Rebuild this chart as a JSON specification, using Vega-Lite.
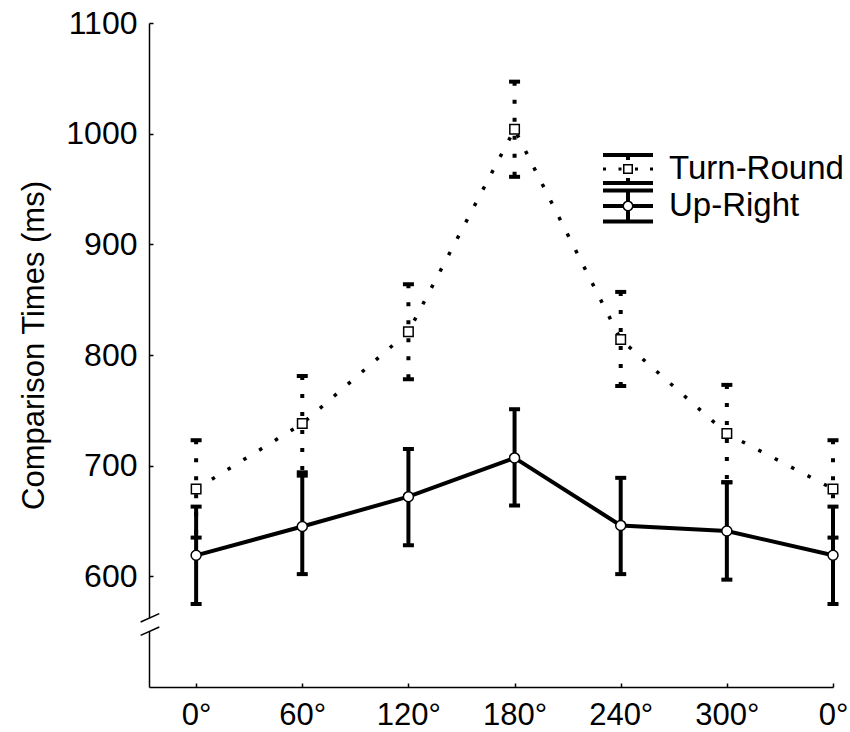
{
  "$schema": "https://vega.github.io/schema/vega-lite/v6.json",
  "width": 684,
  "height": 664,
  "autosize": {"type": "none"},
  "padding": {"left": 149, "top": 23, "right": 17, "bottom": 45},
  "background": "white",
  "config": {
    "view": {"stroke": null},
    "font": "Liberation Sans",
    "axis": {
      "grid": false,
      "domainColor": "black",
      "domainWidth": 1.5,
      "tickColor": "black",
      "tickWidth": 1.5,
      "tickSize": -4,
      "labelFont": "Liberation Sans",
      "labelFontSize": 32,
      "labelColor": "black",
      "titleFont": "Liberation Sans",
      "titleFontWeight": "normal",
      "titleColor": "black"
    }
  },
  "datasets": {
    "times": [
      {"pos": 0, "angle": "0°", "series": "Turn-Round", "mean": 679, "lower": 635, "upper": 723},
      {"pos": 1, "angle": "60°", "series": "Turn-Round", "mean": 738, "lower": 694, "upper": 781},
      {"pos": 2, "angle": "120°", "series": "Turn-Round", "mean": 821, "lower": 778, "upper": 864},
      {"pos": 3, "angle": "180°", "series": "Turn-Round", "mean": 1004, "lower": 961, "upper": 1047},
      {"pos": 4, "angle": "240°", "series": "Turn-Round", "mean": 814, "lower": 772, "upper": 857},
      {"pos": 5, "angle": "300°", "series": "Turn-Round", "mean": 729, "lower": 685, "upper": 773},
      {"pos": 6, "angle": "0°", "series": "Turn-Round", "mean": 679, "lower": 635, "upper": 723},
      {"pos": 0, "angle": "0°", "series": "Up-Right", "mean": 619, "lower": 575, "upper": 663},
      {"pos": 1, "angle": "60°", "series": "Up-Right", "mean": 645, "lower": 602, "upper": 691},
      {"pos": 2, "angle": "120°", "series": "Up-Right", "mean": 672, "lower": 628, "upper": 715},
      {"pos": 3, "angle": "180°", "series": "Up-Right", "mean": 707, "lower": 664, "upper": 751},
      {"pos": 4, "angle": "240°", "series": "Up-Right", "mean": 646, "lower": 602, "upper": 689},
      {"pos": 5, "angle": "300°", "series": "Up-Right", "mean": 641, "lower": 597, "upper": 685},
      {"pos": 6, "angle": "0°", "series": "Up-Right", "mean": 619, "lower": 575, "upper": 663}
    ],
    "axisBreak": [
      {"x": -0.523, "y": 558.7, "x2": -0.347, "y2": 566.3},
      {"x": -0.523, "y": 546.7, "x2": -0.347, "y2": 554.2}
    ],
    "breakGap": [
      {"x": -0.444, "y": 550.6, "y2": 562.2}
    ]
  },
  "encoding": {
    "x": {
      "field": "pos",
      "type": "quantitative",
      "scale": {"domain": [-0.444, 6], "nice": false, "zero": false},
      "axis": {
        "title": null,
        "values": [0, 1, 2, 3, 4, 5, 6],
        "labelExpr": "['0°','60°','120°','180°','240°','300°','0°'][datum.value]",
        "labelFontSize": 31,
        "labelPadding": 17,
        "labelFlush": false
      }
    },
    "y": {
      "type": "quantitative",
      "scale": {"domain": [500, 1100], "nice": false, "zero": false},
      "axis": {
        "title": "Comparison Times (ms)",
        "titleFontSize": 31,
        "titleX": -106,
        "titleY": 322,
        "titleBaseline": "alphabetic",
        "titleAngle": -90,
        "titleAlign": "center",
        "values": [600, 700, 800, 900, 1000, 1100],
        "format": "d",
        "labelPadding": 16
      }
    }
  },
  "layer": [
    {
      "data": {"name": "breakGap"},
      "mark": {"type": "rule", "color": "white", "strokeWidth": 5},
      "encoding": {
        "x": {"field": "x", "type": "quantitative"},
        "y": {"field": "y", "type": "quantitative"},
        "y2": {"field": "y2"}
      }
    },
    {
      "data": {"name": "axisBreak"},
      "mark": {"type": "rule", "color": "black", "strokeWidth": 1.5, "clip": false},
      "encoding": {
        "x": {"field": "x", "type": "quantitative"},
        "y": {"field": "y", "type": "quantitative"},
        "x2": {"field": "x2"},
        "y2": {"field": "y2"}
      }
    },
    {
      "data": {"name": "times"},
      "transform": [{"filter": "datum.series === 'Turn-Round'"}],
      "layer": [
        {
          "mark": {"type": "rule", "color": "black", "strokeWidth": 4, "strokeDash": [4, 14]},
          "encoding": {
            "y": {"field": "upper", "type": "quantitative"},
            "y2": {"field": "lower"}
          }
        },
        {
          "mark": {"type": "tick", "orient": "horizontal", "color": "black", "size": 11, "thickness": 4, "opacity": 1},
          "encoding": {"y": {"field": "upper", "type": "quantitative"}}
        },
        {
          "mark": {"type": "tick", "orient": "horizontal", "color": "black", "size": 11, "thickness": 4, "opacity": 1},
          "encoding": {"y": {"field": "lower", "type": "quantitative"}}
        },
        {
          "mark": {"type": "line", "color": "black", "strokeWidth": 3.5, "strokeDash": [3.5, 15]},
          "encoding": {
            "y": {"field": "mean", "type": "quantitative"},
            "order": {"field": "pos"}
          }
        }
      ]
    },
    {
      "data": {"name": "times"},
      "transform": [{"filter": "datum.series === 'Up-Right'"}],
      "layer": [
        {
          "mark": {"type": "rule", "color": "black", "strokeWidth": 4},
          "encoding": {
            "y": {"field": "upper", "type": "quantitative"},
            "y2": {"field": "lower"}
          }
        },
        {
          "mark": {"type": "tick", "orient": "horizontal", "color": "black", "size": 11, "thickness": 4, "opacity": 1},
          "encoding": {"y": {"field": "upper", "type": "quantitative"}}
        },
        {
          "mark": {"type": "tick", "orient": "horizontal", "color": "black", "size": 11, "thickness": 4, "opacity": 1},
          "encoding": {"y": {"field": "lower", "type": "quantitative"}}
        },
        {
          "mark": {"type": "line", "color": "black", "strokeWidth": 4},
          "encoding": {
            "y": {"field": "mean", "type": "quantitative"},
            "order": {"field": "pos"}
          }
        },
        {
          "mark": {"type": "point", "shape": "circle", "size": 100, "filled": true, "fill": "white", "stroke": "black", "strokeWidth": 1.5, "opacity": 1},
          "encoding": {"y": {"field": "mean", "type": "quantitative"}}
        }
      ]
    },
    {
      "data": {"name": "times"},
      "transform": [{"filter": "datum.series === 'Turn-Round'"}],
      "mark": {"type": "point", "shape": "square", "size": 90, "filled": true, "fill": "white", "stroke": "black", "strokeWidth": 1.5, "opacity": 1},
      "encoding": {"y": {"field": "mean", "type": "quantitative"}}
    },
    {
      "data": {"name": "times"},
      "mark": {"type": "point", "opacity": 0, "filled": true, "color": "black", "fill": "black", "strokeWidth": 0},
      "encoding": {
        "y": {"field": "mean", "type": "quantitative"},
        "shape": {
          "field": "series",
          "type": "nominal",
          "scale": {
            "domain": ["Turn-Round", "Up-Right"],
            "range": [
              "M-1.389,-0.889H1.389V-0.667H-1.389Z M-0.111,-0.667H0.111V-0.5H-0.111Z M-1.389,0.667H1.389V0.889H-1.389Z M-0.111,0.5H0.111V0.667H-0.111Z M-1.389,-0.083H-1.222V0.083H-1.389Z M-0.528,-0.083H-0.361V0.083H-0.528Z M0.389,-0.083H0.556V0.083H0.389Z M1.222,-0.083H1.389V0.083H1.222Z M-0.278,-0.278H0.278V0.278H-0.278Z M-0.194,-0.194V0.194H0.194V-0.194Z",
              "M-1.389,-0.972H1.389V-0.75H-1.389Z M-1.389,0.75H1.389V0.972H-1.389Z M-0.111,-0.75H0.111V-0.278H-0.111Z M-0.111,0.278H0.111V0.75H-0.111Z M-1.389,-0.111H-0.278V0.111H-1.389Z M0.278,-0.111H1.389V0.111H0.278Z M0.306,0A0.306,0.306 0 1,1 -0.306,0A0.306,0.306 0 1,1 0.306,0Z M0.222,0A0.222,0.222 0 1,0 -0.222,0A0.222,0.222 0 1,0 0.222,0Z"
            ]
          },
          "legend": {
            "title": null,
            "orient": "none",
            "legendX": 461,
            "legendY": 128,
            "padding": 0,
            "symbolSize": 1296,
            "symbolStrokeWidth": 0,
            "symbolFillColor": "black",
            "symbolStrokeColor": "black",
            "symbolOpacity": 1,
            "labelFont": "Liberation Sans",
            "labelFontSize": 33,
            "labelColor": "black",
            "labelOffset": 23,
            "labelLimit": 300,
            "rowPadding": 2,
            "encode": {
              "symbols": {
                "update": {
                  "fill": {"value": "black"},
                  "stroke": {"value": "transparent"},
                  "strokeWidth": {"value": 0},
                  "opacity": {"value": 1}
                }
              }
            }
          }
        }
      }
    }
  ]
}
